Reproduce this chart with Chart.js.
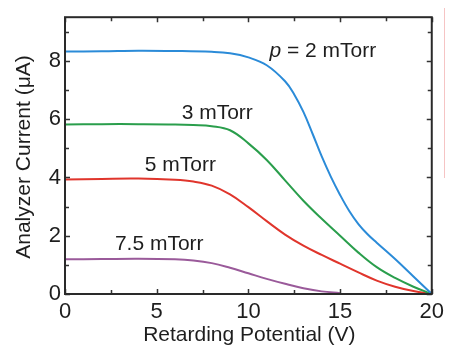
<!DOCTYPE html>
<html>
<head>
<meta charset="utf-8">
<script src="https://cdn.jsdelivr.net/npm/chart.js@4"></script>
<style>
  html, body { margin: 0; padding: 0; background: #fff; }
  #wrap { width: 449px; height: 354px; }
</style>
</head>
<body>
<div id="wrap"><canvas id="c" width="449" height="354"></canvas></div>
<script>
// Retarding potential (V) and analyzer current (µA) for each pressure
const v2   = [0, 2, 4, 6, 8, 9, 10, 11, 12, 12.5, 13, 13.5, 14, 14.5, 15, 15.5, 16, 16.5, 17, 18, 19, 20];
const i2   = [8.32, 8.33, 8.35, 8.34, 8.31, 8.26, 8.12, 7.85, 7.30, 6.85, 6.25, 5.50, 4.72, 4.02, 3.40, 2.85, 2.40, 2.05, 1.76, 1.20, 0.60, 0.0];

const v3   = [0, 2, 4, 6, 7, 8, 9, 10, 11, 12, 13, 14, 15, 16, 17, 18, 19, 20];
const i3   = [5.82, 5.83, 5.83, 5.82, 5.80, 5.76, 5.62, 5.17, 4.60, 3.90, 3.20, 2.58, 2.00, 1.42, 0.92, 0.55, 0.25, 0.0];

const v5   = [0, 2, 4, 6, 7, 8, 9, 10, 11, 12, 13, 14, 15, 16, 17, 18, 19, 20];
const i5   = [3.93, 3.95, 3.96, 3.92, 3.86, 3.72, 3.42, 2.98, 2.50, 2.04, 1.66, 1.34, 1.04, 0.74, 0.46, 0.25, 0.10, 0.0];

const v75  = [0, 2, 4, 6, 7, 8, 9, 10, 11, 12, 13, 14, 15];
const i75  = [1.19, 1.20, 1.21, 1.19, 1.15, 1.06, 0.90, 0.71, 0.52, 0.35, 0.20, 0.09, 0.03];

const seriesNames  = ['2 mTorr', '3 mTorr', '5 mTorr', '7.5 mTorr'];
const seriesColors = ['#2b8bd8', '#2a9e4c', '#e0352c', '#9a5a9a'];

const xTickLabels = ['0', '5', '10', '15', '20'];
const yTickLabels = ['0', '2', '4', '6', '8'];

// curve labels, anchored in data coordinates (left edge, vertical middle)
const curveLabels = [
  { italic: 'p', text: ' = 2 mTorr', x: 11.15, y: 8.32 },
  { italic: '',  text: '3 mTorr',    x: 6.36,  y: 6.22 },
  { italic: '',  text: '5 mTorr',    x: 4.35,  y: 4.43 },
  { italic: '',  text: '7.5 mTorr',  x: 2.72,  y: 1.70 }
];

const pts = (xs, ys) => xs.map((x, k) => ({ x, y: ys[k] }));
const sets = [[v2, i2], [v3, i3], [v5, i5], [v75, i75]];

const FONT = '"Liberation Sans", Arial, sans-serif';
const INK = '#1e1e1e';

const framePlugin = {
  id: 'frame',
  afterDatasetsDraw(chart) {
    const { ctx, chartArea: a, scales } = chart;
    const xs = scales.x, ys = scales.y;
    ctx.save();
    // inward tick marks on all four sides
    ctx.strokeStyle = '#333';
    ctx.lineWidth = 1.5;
    ctx.beginPath();
    for (let t = 0; t <= 20; t += 2.5) {
      const px = Math.round(xs.getPixelForValue(t)) + 0.5;
      const len = (t % 5 === 0) ? 5 : 4;
      ctx.moveTo(px, a.bottom); ctx.lineTo(px, a.bottom - len);
      ctx.moveTo(px, a.top);    ctx.lineTo(px, a.top + len);
    }
    for (let t = 0; t <= 9; t += 1) {
      const py = Math.round(ys.getPixelForValue(t)) + 0.5;
      const len = (t % 2 === 0) ? 5 : 4;
      ctx.moveTo(a.left, py);  ctx.lineTo(a.left + len, py);
      ctx.moveTo(a.right, py); ctx.lineTo(a.right - len, py);
    }
    ctx.stroke();
    // plot frame
    ctx.strokeStyle = '#2a2a2a';
    ctx.lineWidth = 2;
    ctx.strokeRect(a.left, a.top, a.right - a.left, a.bottom - a.top);

    // curve labels
    ctx.fillStyle = INK;
    ctx.textBaseline = 'middle';
    ctx.textAlign = 'left';
    curveLabels.forEach(l => {
      let px = xs.getPixelForValue(l.x);
      const py = ys.getPixelForValue(l.y);
      if (l.italic) {
        ctx.font = 'italic 21px ' + FONT;
        ctx.fillText(l.italic, px, py);
        px += ctx.measureText(l.italic).width;
      }
      ctx.font = '21px ' + FONT;
      ctx.fillText(l.text, px, py);
    });

    // axis titles
    ctx.font = '21px ' + FONT;
    ctx.textAlign = 'center';
    ctx.fillText('Retarding Potential (V)', (a.left + a.right) / 2 + 1, 335);
    ctx.translate(24, 157);
    ctx.rotate(-Math.PI / 2);
    ctx.fillText('Analyzer Current (\u03BCA)', 0, 0);
    ctx.restore();

    // thin rule at the right margin
    ctx.save();
    ctx.strokeStyle = '#f6c4c4';
    ctx.lineWidth = 1;
    ctx.beginPath();
    ctx.moveTo(444.5, 8);
    ctx.lineTo(444.5, 178);
    ctx.stroke();
    ctx.restore();
  }
};

new Chart(document.getElementById('c'), {
  type: 'line',
  data: {
    datasets: sets.map((s, k) => ({
      label: seriesNames[k],
      data: pts(s[0], s[1]),
      borderColor: seriesColors[k],
      borderWidth: 2,
      pointRadius: 0,
      fill: false,
      tension: 0.4
    }))
  },
  options: {
    responsive: false,
    animation: false,
    layout: { padding: { top: 8, right: 16, left: 0, bottom: 0 } },
    plugins: { legend: { display: false }, tooltip: { enabled: false } },
    scales: {
      x: {
        type: 'linear', min: 0, max: 20,
        afterFit: s => { s.height = 60; },
        grid: { display: false, drawTicks: false },
        border: { display: false },
        ticks: {
          stepSize: 5, padding: 5, color: INK, maxRotation: 0,
          font: { family: FONT, size: 22 },
          callback: (v) => xTickLabels[Math.round(v / 5)] ?? ''
        }
      },
      y: {
        type: 'linear', min: 0, max: 9.5,
        afterFit: s => { s.width = 65; },
        grid: { display: false, drawTicks: false },
        border: { display: false },
        ticks: {
          stepSize: 2, includeBounds: false, padding: 4, color: INK,
          font: { family: FONT, size: 22 },
          callback: (v) => yTickLabels[Math.round(v / 2)] ?? ''
        }
      }
    }
  },
  plugins: [framePlugin]
});
</script>
</body>
</html>
